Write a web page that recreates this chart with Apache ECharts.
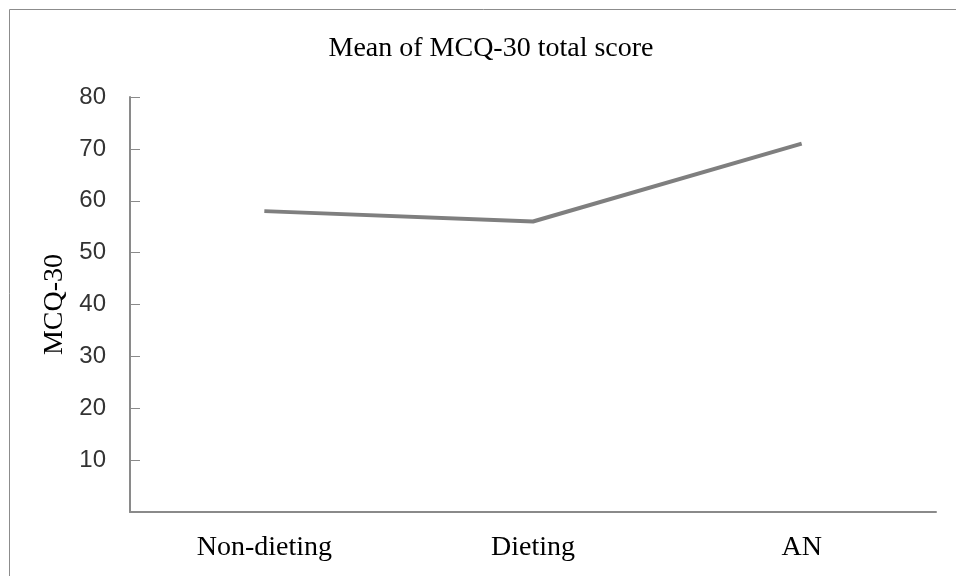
<!DOCTYPE html>
<html>
<head>
<meta charset="utf-8">
<script src="https://cdn.jsdelivr.net/npm/echarts@6/dist/echarts.min.js"></script>
<style>
html,body{margin:0;padding:0;background:#fff;}
#chart{width:956px;height:576px;}
</style>
</head>
<body>
<div id="chart"></div>
<script>
const titleText = 'Mean of MCQ-30 total score';
const categories = ['Non-dieting', 'Dieting', 'AN'];
const mcqValues = [58, 56, 71];
const yAxisName = 'MCQ-30';

const chart = echarts.init(document.getElementById('chart'), null, {renderer: 'canvas'});
const serif = '"Liberation Serif", "Times New Roman", serif';
const sans = '"Liberation Sans", Arial, sans-serif';

chart.setOption({
  animation: false,
  backgroundColor: '#ffffff',
  graphic: [{
    type: 'rect',
    shape: {x: 9.5, y: 9.5, width: 960, height: 580},
    style: {fill: 'none', stroke: '#8c8c8c', lineWidth: 1},
    silent: true
  }],
  title: {
    text: titleText,
    left: 486,
    textAlign: 'center',
    top: 30,
    textStyle: {fontFamily: serif, fontSize: 28, fontWeight: 'normal', color: '#000'}
  },
  grid: {left: 130, right: 20, top: 97, bottom: 64, containLabel: false},
  xAxis: {
    type: 'category',
    data: categories,
    boundaryGap: true,
    axisLine: {lineStyle: {color: '#8a8a8a', width: 2}},
    axisTick: {inside: true, length: 10, lineStyle: {color: '#8a8a8a', width: 1}},
    axisLabel: {fontFamily: serif, fontSize: 28, color: '#000', margin: 22}
  },
  yAxis: {
    type: 'value',
    min: 0, max: 80, interval: 10,
    name: yAxisName,
    nameLocation: 'middle',
    nameGap: 60,
    nameRotate: 90,
    nameTextStyle: {fontFamily: serif, fontSize: 28, color: '#000'},
    splitLine: {show: false},
    axisLine: {show: true, lineStyle: {color: '#8a8a8a', width: 2}},
    axisTick: {show: true, inside: true, length: 10, lineStyle: {color: '#8a8a8a', width: 1}},
    axisLabel: {
      fontFamily: sans, fontSize: 24, color: '#333', margin: 24,
      formatter: v => (v === 0 ? '' : String(v))
    }
  },
  series: [{
    type: 'line',
    data: mcqValues,
    symbol: 'none',
    lineStyle: {color: '#7f7f7f', width: 4},
    itemStyle: {color: '#7f7f7f'}
  }]
});
</script>
</body>
</html>
